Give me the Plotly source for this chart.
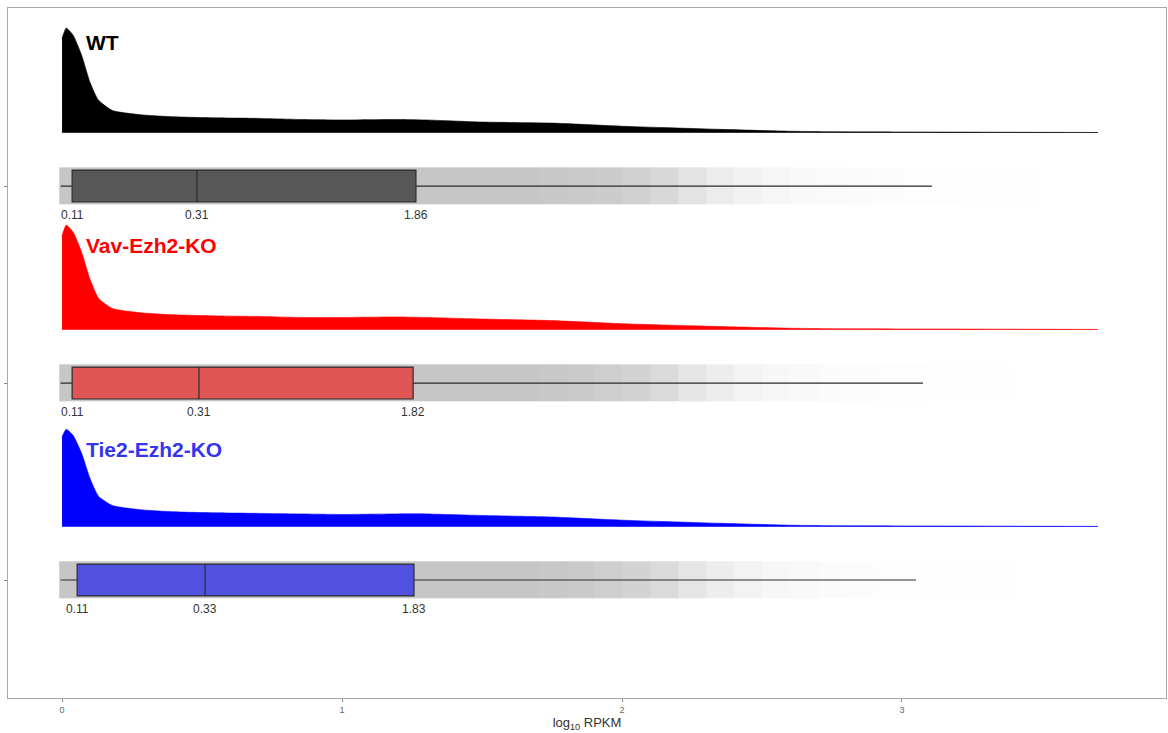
import plotly.graph_objects as go

# ---------------- data ----------------
groups = ["WT", "Vav-Ezh2-KO", "Tie2-Ezh2-KO"]
group_pos = [3, 2, 1]
density_colors = ["#000000", "#ff0000", "#0000ff"]
label_colors = ["#000000", "#ff0000", "#3535f0"]
box_fill = ["#575757", "#e25555", "#5252e0"]

# density profile (log10 RPKM grid, relative density)
dens_x = [0.0, 0.015, 0.04, 0.07, 0.1, 0.13, 0.18, 0.28, 0.4, 0.55, 0.7, 0.85, 1.0,
          1.2, 1.3, 1.5, 1.75, 2.0, 2.35, 2.6, 2.8, 3.1, 3.4, 3.7]
dens_wt = [0.9, 1.0, 0.93, 0.74, 0.48, 0.31, 0.21, 0.17, 0.15, 0.14, 0.135, 0.125, 0.12,
           0.125, 0.12, 0.10, 0.09, 0.06, 0.03, 0.012, 0.006, 0.004, 0.002, 0.0]
dens_vav = [0.9, 1.0, 0.93, 0.74, 0.48, 0.3, 0.2, 0.16, 0.14, 0.13, 0.125, 0.115, 0.115,
            0.12, 0.115, 0.10, 0.085, 0.055, 0.028, 0.012, 0.006, 0.004, 0.002, 0.0]
dens_tie = [0.86, 0.93, 0.87, 0.7, 0.46, 0.29, 0.2, 0.16, 0.14, 0.13, 0.125, 0.12, 0.115,
            0.12, 0.12, 0.105, 0.09, 0.06, 0.03, 0.012, 0.006, 0.004, 0.002, 0.0]
densities = [dens_wt, dens_vav, dens_tie]

# box statistics (log10 RPKM)
lower = [-0.005, -0.005, -0.005]
q1 = [0.036, 0.036, 0.054]
median = [0.482, 0.489, 0.511]
q3 = [1.264, 1.254, 1.257]
upper = [3.107, 3.075, 3.05]
stat_labels = [["0.11", "0.31", "1.86"], ["0.11", "0.31", "1.82"], ["0.11", "0.33", "1.83"]]

# jittered point cloud intensity (bins of log10 RPKM)
cloud_edges = [-0.01, 0.1, 0.2, 0.3, 0.4, 0.5, 0.6, 0.7, 0.8, 0.9, 1.0, 1.1, 1.2, 1.3,
               1.4, 1.5, 1.6, 1.7, 1.8, 1.9, 2.0, 2.1, 2.2, 2.3, 2.4, 2.5, 2.6, 2.7, 2.8,
               2.9, 3.0, 3.1, 3.2, 3.3, 3.4, 3.5, 3.6, 3.75]
cloud_wt = [1.0, 1.0, 1.0, 1.0, 1.0, 1.0, 1.0, 1.0, 1.0, 1.0, 1.0, 1.0, 1.0, 1.0,
            1.0, 1.0, 1.0, 0.98, 0.96, 0.94, 0.9, 0.82, 0.7, 0.58, 0.48, 0.4, 0.34,
            0.29, 0.25, 0.22, 0.19, 0.17, 0.15, 0.13, 0.11, 0.09, 0.07]
cloud_vav = [1.0, 1.0, 1.0, 1.0, 1.0, 1.0, 1.0, 1.0, 1.0, 1.0, 1.0, 1.0, 1.0, 1.0,
             1.0, 1.0, 1.0, 0.98, 0.96, 0.93, 0.88, 0.8, 0.68, 0.56, 0.46, 0.38, 0.32,
             0.27, 0.23, 0.2, 0.17, 0.15, 0.13, 0.11, 0.09, 0.07, 0.05]
cloud_tie = [1.0, 1.0, 1.0, 1.0, 1.0, 1.0, 1.0, 1.0, 1.0, 1.0, 1.0, 1.0, 1.0, 1.0,
             1.0, 1.0, 1.0, 0.98, 0.96, 0.93, 0.88, 0.8, 0.68, 0.56, 0.46, 0.38, 0.32,
             0.27, 0.23, 0.2, 0.17, 0.15, 0.13, 0.11, 0.09, 0.07, 0.05]
clouds = [cloud_wt, cloud_vav, cloud_tie]

x_ticks = [0, 1, 2, 3]

# ---------------- layout constants ----------------
DENS_BASE = 0.272     # baseline offset above box centre
DENS_SCALE = 0.53     # height of peak
BOX_W = 0.162
CLOUD_H = 0.095
label_offsets = [0.73, 0.70, 0.665]

fig = go.Figure()

for i, g in enumerate(groups):
    c = group_pos[i]
    # point cloud band
    fig.add_trace(go.Heatmap(
        x=cloud_edges, y=[c - CLOUD_H, c + CLOUD_H], z=[clouds[i]],
        zmin=0, zmax=1, colorscale=[[0, "rgba(255,255,255,0)"], [1, "#c6c6c6"]],
        showscale=False, hoverinfo="skip", zsmooth=False))
    # density (half violin)
    xs = dens_x + [dens_x[-1], dens_x[0]]
    ys = [c + DENS_BASE + d * DENS_SCALE for d in densities[i]] + [c + DENS_BASE, c + DENS_BASE]
    fig.add_trace(go.Scatter(
        x=xs, y=ys, mode="lines", fill="toself", fillcolor=density_colors[i],
        line=dict(color=density_colors[i], width=0.6, shape="spline", smoothing=0.5),
        opacity=1, hoverinfo="skip", showlegend=False))
    # box plot
    fig.add_trace(go.Box(
        y=[c], orientation="h", q1=[q1[i]], median=[median[i]], q3=[q3[i]],
        lowerfence=[lower[i]], upperfence=[upper[i]], width=BOX_W,
        fillcolor=box_fill[i], line=dict(color="#2b2b2b", width=1.2),
        whiskerwidth=0, showlegend=False, hoverinfo="skip"))
    # stat labels
    for xv, txt in zip([q1[i], median[i], q3[i]], stat_labels[i]):
        fig.add_annotation(x=xv, y=c - 0.148, text=txt, showarrow=False,
                           font=dict(family="Liberation Sans, Arial", size=12, color="#333333"),
                           xanchor="center", yanchor="middle")
    # group title
    fig.add_annotation(x=0.078, y=c + label_offsets[i], text="<b>" + g + "</b>", showarrow=False,
                       font=dict(family="Liberation Sans, Arial", size=21, color=label_colors[i]),
                       xanchor="left", yanchor="middle")

fig.update_layout(
    width=1168, height=733,
    margin=dict(l=8, r=2, t=8, b=35),
    paper_bgcolor="white", plot_bgcolor="white",
    showlegend=False,
    xaxis=dict(range=[-0.193, 3.943], tickvals=x_ticks, ticktext=[str(v) for v in x_ticks],
               ticks="outside", ticklen=3, tickcolor="#888888",
               tickfont=dict(family="Liberation Sans, Arial", size=9, color="#666666"),
               showgrid=False, zeroline=False, showline=True, linecolor="#a8a8a8",
               linewidth=1, mirror=True, automargin=False,
               title=dict(text="log<sub>10</sub> RPKM", standoff=3,
                          font=dict(family="Liberation Sans, Arial", size=13, color="#333333"))),
    yaxis=dict(range=[0.401, 3.904], tickvals=group_pos, showticklabels=False,
               ticks="outside", ticklen=3, tickcolor="#888888",
               showgrid=False, zeroline=False, showline=True, linecolor="#a8a8a8",
               linewidth=1, mirror=True, automargin=False),
)

fig.write_html("out.html", config={"displayModeBar": False},
               post_script="document.body.style.margin='0';document.body.style.overflow='hidden';")
